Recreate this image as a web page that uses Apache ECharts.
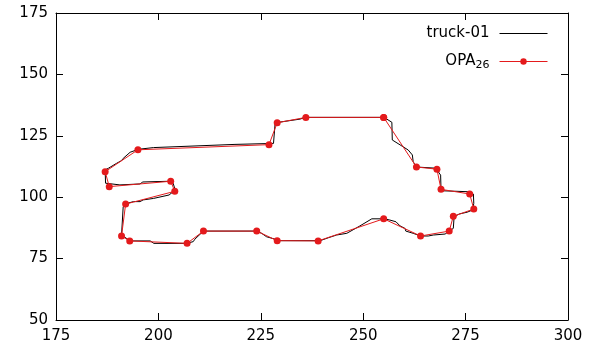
<!DOCTYPE html>
<html>
<head>
<meta charset="utf-8">
<script src="https://cdn.jsdelivr.net/npm/echarts@6/dist/echarts.min.js"></script>
<style>
  html, body { margin: 0; padding: 0; background: #fff; }
  #chart { width: 592px; height: 353px; }
</style>
</head>
<body>
<div id="chart"></div>
<script>
// Outline of truck-01 (closed polygon)
const truckX = [255.1,235.8,234.6,229.3,228.5,228.1,227.7,218.7,218.5,198.8,
  195.1,193.1,192.9,191.4,191.0,189.8,188.4,187.8,187.0,187.1,
  187.4,190.6,195.5,196.2,202.8,203.6,204.1,202.6,198.8,196.3,
  195.5,193.9,192.4,191.4,191.2,191.0,191.8,193.1,198.0,198.9,
  206.9,208.5,208.9,211.0,224.0,225.2,226.4,228.5,229.3,239.5,
  241.5,243.5,246.0,249.2,252.1,255.1,256.5,258.0,259.0,260.2,
  260.4,262.2,264.0,265.9,267.1,270.0,271.0,272.0,272.2,273.5,
  275.4,276.7,277.0,276.9,276.1,269.6,269.0,268.9,268.3,267.9,
  263.9,262.9,262.2,262.0,261.0,259.0,257.1,257.0,255.1];
const truckY = [132.5,132.5,131.8,130.5,130.1,121.9,121.7,121.5,120.8,120.2,
  119.5,118.3,117.6,115.8,114.9,113.8,112.4,111.8,111.1,105.7,
  105.0,105.0,105.4,106.2,106.5,105.7,102.9,100.9,99.5,98.9,
  98.2,98.2,97.5,96.1,95.5,84.6,83.7,82.2,82.2,81.2,
  81.2,81.9,82.9,86.2,86.2,85.3,83.9,82.9,82.3,82.3,
  83.5,84.6,85.3,88.3,91.2,91.2,90.7,90.0,88.3,87.3,
  86.2,85.3,84.2,84.2,84.6,85.0,86.2,87.3,92.1,93.2,
  93.9,94.8,97.5,101.3,102.2,102.6,103.2,109.0,110.4,111.8,
  112.2,112.4,114.5,117.2,119.2,121.3,123.3,130.5,132.5];

// Polygonal approximation OPA_26 (26 vertices, closed)
const opaX = [255,236,229,227,195,187,188,203,204,192,191,193,207,211,224,229,239,255,264,271,272,277,276,269,268,263,255];
const opaY = [132.5,132.5,130.3,121.4,119.3,110.4,104.3,106.5,102.4,97.2,84.2,82.2,81.2,86.2,86.2,82.3,82.2,91.2,84.2,86.2,92.2,95.2,101.3,103.2,111.4,112.3,132.5];

// Axis ticks
const xTicks = [175, 200, 225, 250, 275, 300];
const yTicks = [50, 75, 100, 125, 150, 175];

const pairs = (xs, ys) => xs.map((x, i) => [x, ys[i]]);

const FONT = 'DejaVu Sans';
const xStep = xTicks[1] - xTicks[0];
const yStep = yTicks[1] - yTicks[0];

const frameLine = { show: true, lineStyle: { color: '#000', width: 1 } };
const tick = { show: true, inside: true, length: 7, lineStyle: { color: '#000', width: 1 } };
const label = { color: '#000', fontFamily: FONT, fontSize: 15 };

const xBase = {
  type: 'value', min: xTicks[0], max: xTicks[xTicks.length - 1], interval: xStep,
  axisLine: frameLine, axisTick: tick, splitLine: { show: false }
};
const yBase = {
  type: 'value', min: yTicks[0], max: yTicks[yTicks.length - 1], interval: yStep,
  axisLine: frameLine, axisTick: tick, splitLine: { show: false }
};

const chart = echarts.init(document.getElementById('chart'), null, { renderer: 'canvas' });
chart.setOption({
  animation: false,
  backgroundColor: '#fff',
  grid: { left: 56, right: 24, top: 13, bottom: 33, containLabel: false },
  xAxis: [
    Object.assign({}, xBase, { position: 'bottom', axisLabel: Object.assign({ margin: 9 }, label) }),
    Object.assign({}, xBase, { position: 'top', axisLabel: { show: false } })
  ],
  yAxis: [
    Object.assign({}, yBase, { position: 'left', axisLabel: Object.assign({ margin: 8 }, label) }),
    Object.assign({}, yBase, { position: 'right', axisLabel: { show: false } })
  ],
  legend: {
    orient: 'vertical',
    right: 44,
    top: 24.5,
    padding: 0,
    align: 'right',
    itemWidth: 48,
    itemHeight: 8,
    itemGap: 10,
    lineStyle: { width: 1 },
    textStyle: {
      color: '#000', fontFamily: FONT, fontSize: 15, lineHeight: 18, padding: [0, 5, 0, 0],
      rich: {
        sub: { fontFamily: FONT, fontSize: 11, color: '#000', verticalAlign: 'bottom', padding: [8, 0, 0, 0] }
      }
    },
    formatter: name => name === 'OPA26' ? 'OPA{sub|26}' : name,
    data: [
      // plain 1px line sample for the outline
      { name: 'truck-01', icon: 'path://M0,0H48V1H0Z' },
      'OPA26'
    ]
  },
  series: [
    {
      name: 'truck-01',
      type: 'line',
      data: pairs(truckX, truckY),
      showSymbol: false,
      symbol: 'none',
      lineStyle: { color: '#000', width: 1 },
      itemStyle: { color: '#000' },
      z: 2
    },
    {
      name: 'OPA26',
      type: 'line',
      data: pairs(opaX, opaY),
      symbol: 'circle',
      symbolSize: 7,
      lineStyle: { color: '#e41a1c', width: 1 },
      itemStyle: { color: '#e41a1c' },
      z: 3
    }
  ]
});
</script>
</body>
</html>
